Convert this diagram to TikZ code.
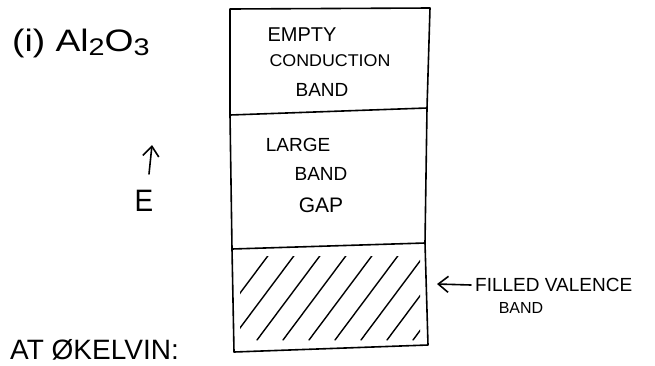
\documentclass[tikz,border=0pt]{standalone}
\usepackage{fontspec}
\setmainfont{Liberation Sans}
\usetikzlibrary{arrows.meta}
\newcommand{\fsz}[1]{\fontsize{#1}{#1}\selectfont}
\begin{document}
\begin{tikzpicture}[x=1pt,y=-1pt,
  ink/.style={line width=1.6pt,line cap=round,line join=round},
  lbl/.style={inner sep=0pt},
  barb/.style={-{Straight Barb[length=10pt,width=16pt,line width=1.6pt]}}]
\useasboundingbox (0,0) rectangle (655,365);
% band box
\coordinate (tl) at (230,9);
\coordinate (tr) at (430,8);
\coordinate (m1l) at (230,115);
\coordinate (m1r) at (427,108);
\coordinate (m2l) at (232,249);
\coordinate (m2r) at (425,243);
\coordinate (bl) at (234,352);
\coordinate (br) at (428,345);
\draw[ink] (tl) -- (tr) -- (m1r) -- (m2r) -- (br) -- (bl) -- (m2l) -- (m1l) -- cycle;
\draw[ink] (m1l) -- (m1r);
\draw[ink] (m2l) -- (m2r);
% hatching
\begin{scope}
\clip (240,256) rectangle (420,340);
\foreach \i in {0,...,9}{
  \draw[ink,line width=1.4pt] ({205+\i*26},340) -- ({270+\i*26},253);
}
\end{scope}
% texts
\node[lbl,font=\fsz{20}] (empty) at (302,35) {EMPTY};
\node[lbl,font=\fsz{17},xscale=1.05] (cond) at (330,61) {CONDUCTION};
\node[lbl,font=\fsz{19}] (cband) at (322,90) {BAND};
\node[lbl,font=\fsz{19}] (large) at (298,145) {LARGE};
\node[lbl,font=\fsz{19}] (gband) at (321,174) {BAND};
\node[lbl,font=\fsz{21}] (gap) at (321,205) {GAP};
\node[lbl,font=\fsz{31},anchor=west,xscale=1.2] (title) at (12,43) {(i) Al\raisebox{-0.3ex}{\fsz{24}2}O\raisebox{-0.3ex}{\fsz{24}3}};
\node[lbl,font=\fsz{31},xscale=0.9] (E) at (144,201) {E};
\coordinate (Ebot) at (149,174);
\coordinate (Etop) at (152,145);
\draw[ink,barb] (Ebot) -- (Etop);
\node[lbl,font=\fsz{19},anchor=west] (filled) at (475,285) {FILLED VALENCE};
\node[lbl,font=\fsz{16}] (vband) at (521,308) {BAND};
\coordinate (vtip) at (437,284);
\draw[ink,barb] (filled.west) ++(-4,0) -- (vtip);
\node[lbl,font=\fsz{28},anchor=west] (kelvin) at (10,350) {AT ØKELVIN:};
\end{tikzpicture}
\end{document}
